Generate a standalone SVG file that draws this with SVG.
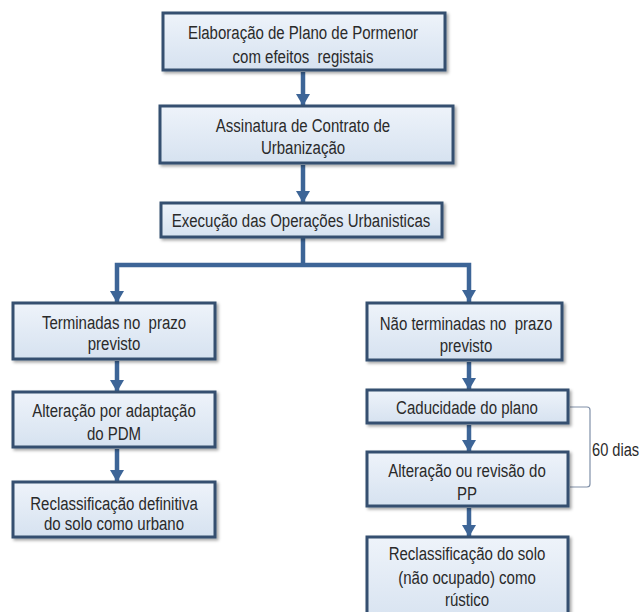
<svg xmlns="http://www.w3.org/2000/svg" width="641" height="612" viewBox="0 0 641 612">
<defs>
<linearGradient id="bf" x1="0" y1="0" x2="0" y2="1">
<stop offset="0" stop-color="#eef3fa"/>
<stop offset="1" stop-color="#d6e2f0"/>
</linearGradient>
<filter id="sh" x="-5%" y="-10%" width="115%" height="130%">
<feDropShadow dx="2" dy="2" stdDeviation="1.5" flood-color="#000" flood-opacity="0.35"/>
</filter>
<marker id="ah" markerUnits="userSpaceOnUse" markerWidth="14" markerHeight="14" refX="12" refY="7" orient="auto">
<path d="M0,0 L12,7 L0,14 Z" fill="#3d6597"/>
</marker>
<style>
.box{fill:url(#bf);stroke:#34506f;stroke-width:3;filter:url(#sh)}
.t{font-family:"Liberation Sans",Arial,sans-serif;font-size:19px;fill:#2a2a2a;text-anchor:middle}
.c{fill:none;stroke:#3d6597;stroke-width:4.5}
.br{fill:none;stroke:#8090a8;stroke-width:1.2}
</style>
</defs>
<rect width="641" height="612" fill="#ffffff"/>
<g id="connectors">
<line class="c" x1="303" y1="72" x2="303" y2="106" marker-end="url(#ah)"/>
<line class="c" x1="303" y1="165" x2="303" y2="203" marker-end="url(#ah)"/>
<path class="c" d="M303,238 V265"/>
<path class="c" d="M303,265 H117 V303" marker-end="url(#ah)"/>
<path class="c" d="M303,265 H469 V302" marker-end="url(#ah)"/>
<line class="c" x1="117" y1="361" x2="117" y2="392" marker-end="url(#ah)"/>
<line class="c" x1="117" y1="449" x2="117" y2="482" marker-end="url(#ah)"/>
<line class="c" x1="469" y1="362" x2="469" y2="390" marker-end="url(#ah)"/>
<line class="c" x1="469" y1="425" x2="469" y2="452" marker-end="url(#ah)"/>
<line class="c" x1="469" y1="508" x2="469" y2="537" marker-end="url(#ah)"/>
<path class="br" d="M570,407 H587 Q590,407 590,410 V484 Q590,487 587,487 H570"/>
</g>
<g id="n1">
<rect class="box" x="163" y="13" width="282" height="57"/>
<text class="t" transform="translate(303,39) scale(0.79,1)">Elaboração de Plano de Pormenor</text>
<text class="t" transform="translate(303,63) scale(0.79,1)" xml:space="preserve">com efeitos  registais</text>
</g>
<g id="n2">
<rect class="box" x="160" y="106" width="293" height="57"/>
<text class="t" transform="translate(303,132) scale(0.79,1)">Assinatura de Contrato de</text>
<text class="t" transform="translate(303,154) scale(0.79,1)">Urbanização</text>
</g>
<g id="n3">
<rect class="box" x="161" y="203" width="281" height="34"/>
<text class="t" transform="translate(301,227) scale(0.79,1)">Execução das Operações Urbanisticas</text>
</g>
<g id="n4">
<rect class="box" x="13" y="303" width="202" height="56"/>
<text class="t" transform="translate(114,329) scale(0.79,1)" xml:space="preserve">Terminadas no  prazo</text>
<text class="t" transform="translate(114,350) scale(0.79,1)">previsto</text>
</g>
<g id="n5">
<rect class="box" x="13" y="392" width="202" height="55"/>
<text class="t" transform="translate(114,417) scale(0.79,1)">Alteração por adaptação</text>
<text class="t" transform="translate(114,440) scale(0.79,1)">do PDM</text>
</g>
<g id="n6">
<rect class="box" x="13" y="482" width="202" height="55"/>
<text class="t" transform="translate(114,510) scale(0.79,1)">Reclassificação definitiva</text>
<text class="t" transform="translate(114,530) scale(0.79,1)">do solo como urbano</text>
</g>
<g id="n7">
<rect class="box" x="367" y="303" width="195" height="57"/>
<text class="t" transform="translate(466,330) scale(0.79,1)" xml:space="preserve">Não terminadas no  prazo</text>
<text class="t" transform="translate(466,352) scale(0.79,1)">previsto</text>
</g>
<g id="n8">
<rect class="box" x="367" y="390" width="201" height="33"/>
<text class="t" transform="translate(467,414) scale(0.79,1)">Caducidade do plano</text>
</g>
<g id="n9">
<rect class="box" x="367" y="452" width="201" height="54"/>
<text class="t" transform="translate(467,477) scale(0.79,1)">Alteração ou revisão do</text>
<text class="t" transform="translate(467,500) scale(0.79,1)">PP</text>
</g>
<g id="n10">
<rect class="box" x="367" y="537" width="201" height="90"/>
<text class="t" transform="translate(467,560) scale(0.79,1)">Reclassificação do solo</text>
<text class="t" transform="translate(467,584) scale(0.79,1)">(não ocupado) como</text>
<text class="t" transform="translate(467,606) scale(0.79,1)">rústico</text>
</g>
<g id="label60">
<text class="t" style="text-anchor:start" transform="translate(592,456) scale(0.77,1)">60 dias</text>
</g>
</svg>
